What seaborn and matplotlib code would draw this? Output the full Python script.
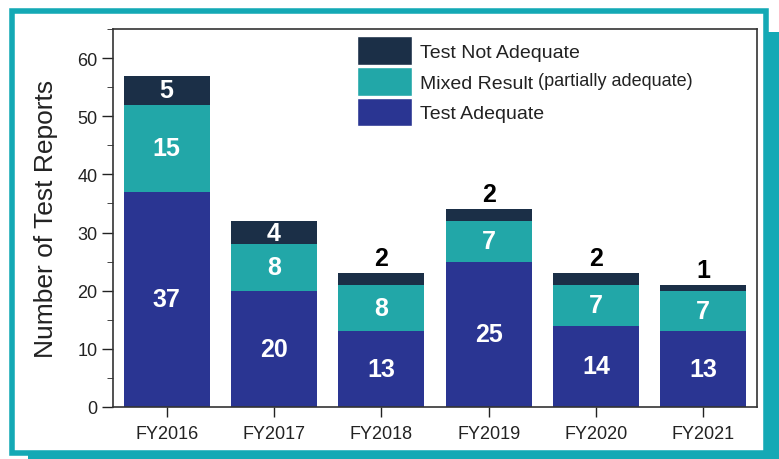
import pandas as pd
import seaborn as sns
import matplotlib.pyplot as plt
from matplotlib.patches import Rectangle, Patch
from matplotlib.ticker import MultipleLocator

# Datos
years = ["FY2016", "FY2017", "FY2018", "FY2019", "FY2020", "FY2021"]
adequate = [37, 20, 13, 25, 14, 13]
mixed = [15, 8, 8, 7, 7, 7]
not_adequate = [5, 4, 2, 2, 2, 1]

c_adequate = "#2a3592"
c_mixed = "#22a7a8"
c_not = "#1b2f47"
c_frame = "#14a9b5"

df = pd.DataFrame({"year": years, "adequate": adequate, "mixed": mixed, "not": not_adequate})
df["am"] = df["adequate"] + df["mixed"]
df["total"] = df["am"] + df["not"]

sns.set_style("ticks")
plt.rcParams["font.family"] = ["Liberation Sans", "DejaVu Sans"]

fig = plt.figure(figsize=(7.79, 4.6), dpi=100)

# marco turquesa con sombra
fig.patches.append(Rectangle((28 / 779, 0), 1 - 28 / 779, 1 - 33 / 460, transform=fig.transFigure,
                             facecolor=c_frame, edgecolor="none", zorder=0))
fig.patches.append(Rectangle((12 / 779, 6 / 460), 754 / 779, 442 / 460, transform=fig.transFigure,
                             facecolor="white", edgecolor=c_frame, linewidth=4, zorder=1))

ax = fig.add_axes([113 / 779, 52 / 460, 644 / 779, 378 / 460])
ax.set_zorder(2)
ax.patch.set_alpha(0)

# barras apiladas (totales superpuestos)
sns.barplot(data=df, x="year", y="total", color=c_not, width=0.8, saturation=1, linewidth=0, ax=ax)
sns.barplot(data=df, x="year", y="am", color=c_mixed, width=0.8, saturation=1, linewidth=0, ax=ax)
sns.barplot(data=df, x="year", y="adequate", color=c_adequate, width=0.8, saturation=1, linewidth=0, ax=ax)

# etiquetas
lab = dict(ha="center", va="center", color="white", fontsize=18, fontweight="bold")
for i, row in df.iterrows():
    ax.text(i, row["adequate"] / 2, str(row["adequate"]), **lab)
    ax.text(i, row["adequate"] + row["mixed"] / 2, str(row["mixed"]), **lab)
    if row["not"] >= 3:
        ax.text(i, row["am"] + row["not"] / 2, str(row["not"]), **lab)
    else:
        ax.text(i, row["total"] + 0.5, str(row["not"]), ha="center", va="bottom",
                color="black", fontsize=18, fontweight="bold")

ax.set_ylim(0, 65)
ax.set_xlim(-0.5, 5.5)
ax.yaxis.set_major_locator(MultipleLocator(10))
ax.yaxis.set_minor_locator(MultipleLocator(5))
ax.tick_params(axis="both", labelsize=13, direction="out", width=1, colors="#222222")
ax.tick_params(axis="y", which="major", length=8, pad=3)
ax.tick_params(axis="y", which="minor", length=4)
ax.tick_params(axis="x", length=7, pad=6)
ax.set_xlabel("")
ax.set_ylabel("Number of Test Reports", fontsize=19, color="#222222", labelpad=14)
for s in ax.spines.values():
    s.set_visible(True)
    s.set_color("#333333")
    s.set_linewidth(1.2)

handles = [Patch(facecolor=c_not), Patch(facecolor=c_mixed), Patch(facecolor=c_adequate)]
leg = ax.legend(handles, ["Test Not Adequate", "Mixed Result", "Test Adequate"],
                loc="upper left", bbox_to_anchor=(0.379, 0.981), frameon=False,
                fontsize=14, handlelength=2.85, handleheight=1.9, handletextpad=0.4,
                labelspacing=0.1, borderaxespad=0, borderpad=0)
for t in leg.get_texts():
    t.set_color("#222222")

fig.canvas.draw()
ax.annotate(" (partially adequate)", xy=(1, 0.12), xycoords=leg.get_texts()[1],
            fontsize=13, color="#222222", va="bottom", ha="left", zorder=10)

fig.savefig("out.png", dpi=100)
